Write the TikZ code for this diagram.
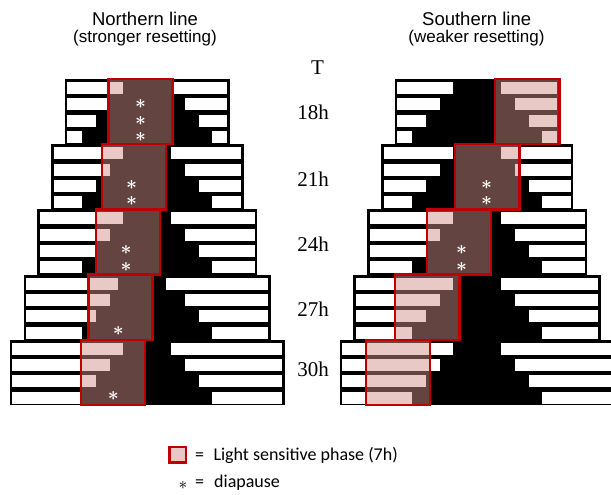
\documentclass[tikz,border=0pt]{standalone}
\usepackage{fontspec}
\setmainfont{Liberation Serif}
\newfontfamily\titlefont{Liberation Sans}
\newfontfamily\legendfont{Carlito}
\definecolor{phaseline}{RGB}{192,0,0}
\definecolor{phasefill}{RGB}{210,144,135}
\definecolor{phaselight}{RGB}{233,201,198}

% One block of four days for period T: black night bar, white light bars
% #1 centre x, #2 top y, #3 period (h), #4 shift of the first day's night
\newcommand\actblock[4]{%
  \pgfmathsetmacro\halfblock{#3*9.17/2}%
  \fill[black] (#1-\halfblock,#2) rectangle (#1+\halfblock,#2+65.2);
  \foreach \hw [count=\r from 0] in {24,37.6,51.3,65}{%
    \pgfmathsetmacro\rowsh{\r==0 ? #4 : 0}%
    \fill[white] (#1-\halfblock+2.7,#2+\r*16.3+3) rectangle (#1-\hw+\rowsh,#2+\r*16.3+15);
    \fill[white] (#1+\hw+\rowsh,#2+\r*16.3+3) rectangle (#1+\halfblock-2.7,#2+\r*16.3+15);
  }%
}

\begin{document}
\begin{tikzpicture}[x=1pt,y=-1pt,
  phasebox/.style={draw=phaseline,line width=2.4pt,fill=phasefill,fill opacity=0.48},
  diapmark/.style={text=white,inner sep=0pt,scale=1.9,font=\normalsize\boldmath},
  periodlabel/.style={anchor=base,font=\fontsize{21}{21}\selectfont},
  headline/.style={anchor=base,font=\titlefont\fontsize{18.5}{18.5}\selectfont},
  subline/.style={anchor=base,font=\titlefont\fontsize{17}{17}\selectfont},
  legendtext/.style={anchor=base west,inner sep=0pt,font=\legendfont\fontsize{18}{18}\selectfont}]
\useasboundingbox (0,0) rectangle (611,495);
\clip (0,0) rectangle (611,495);

% Northern line
\foreach \T/\k/\sh in {18/0/0,21/1/0,24/2/0,27/3/-5,30/4/0}{
  \actblock{147.3}{79+\k*65.2}{\T}{\sh}
}
\foreach \x/\k in {108.3/0,101.7/1,95.7/2,88.3/3,80.7/4}{
  \draw[phasebox] (\x,79+\k*65.2) rectangle (\x+64.3,79+\k*65.2+65.2);
}

% Southern line
\foreach \T/\k in {18/0,21/1,24/2,27/3,30/4}{
  \actblock{477.2}{79+\k*65.2}{\T}{0}
}
\foreach \x/\k in {495/0,455/1,426.7/2,395/3,365.7/4}{
  \draw[phasebox] (\x,79+\k*65.2) rectangle (\x+64.3,79+\k*65.2+65.2);
}

% diapause marks (row centres: top + (r+0.5)*16.3)
\node[diapmark] (nA2) at (140.7,103.8) {$\ast$};
\node[diapmark] (nA3) at (140.7,120.6) {$\ast$};
\node[diapmark] (nA4) at (140.7,136.8) {$\ast$};
\node[diapmark] (nB3) at (131.7,185.0) {$\ast$};
\node[diapmark] (nB4) at (131.7,201.3) {$\ast$};
\node[diapmark] (nC3) at (126.0,250.2) {$\ast$};
\node[diapmark] (nC4) at (126.0,267.0) {$\ast$};
\node[diapmark] (nD4) at (118.3,331.2) {$\ast$};
\node[diapmark] (nE4) at (113.3,396.0) {$\ast$};
\node[diapmark] (sB3) at (486.7,185.0) {$\ast$};
\node[diapmark] (sB4) at (486.7,201.3) {$\ast$};
\node[diapmark] (sC3) at (461.7,250.2) {$\ast$};
\node[diapmark] (sC4) at (461.7,266.8) {$\ast$};

% headings
\node[headline] (northhead) at (145,25.7) {Northern line};
\node[subline] (northsub) at (145,42.3) {(stronger resetting)};
\node[headline] (southhead) at (476.7,25.7) {Southern line};
\node[subline] (southsub) at (476.5,42.3) {(weaker resetting)};

% period labels
\node[periodlabel] (lblT) at (317.5,75) {T};
\node[periodlabel] (lbl18) at (313,120) {18h};
\node[periodlabel] (lbl21) at (313,186.7) {21h};
\node[periodlabel] (lbl24) at (313,251.7) {24h};
\node[periodlabel] (lbl27) at (313,316.7) {27h};
\node[periodlabel] (lbl30) at (313,376.7) {30h};

% legend
\draw[draw=phaseline,line width=2.4pt,fill=phaselight] (169.3,446.7) rectangle (186,462.3);
\node[legendtext] (legeq1) at (195,460) {=};
\node[legendtext] (legphase) at (213.3,460) {Light sensitive phase (7h)};
\node[inner sep=0pt,scale=1.75,font=\normalsize] (legast) at (183,485) {$\ast$};
\node[legendtext] (legeq2) at (195,487) {=};
\node[legendtext] (legdiap) at (214,487) {diapause};
\end{tikzpicture}
\end{document}
